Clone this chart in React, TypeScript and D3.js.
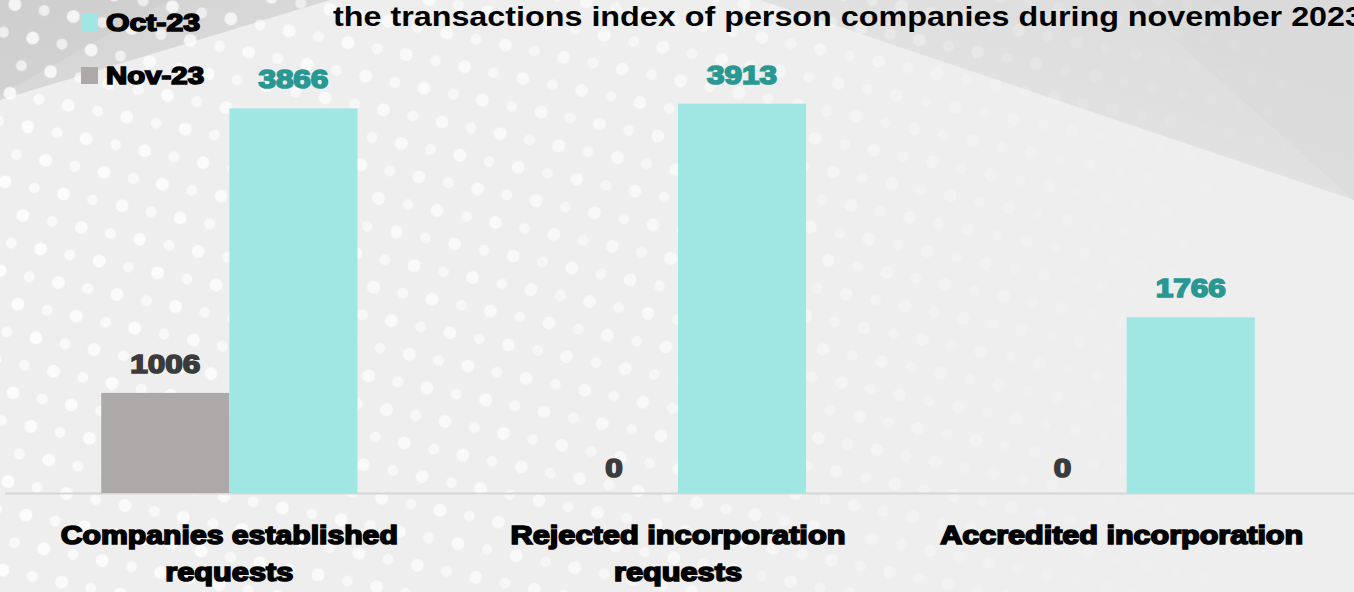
import React from 'react';
import * as d3 from 'd3';

const categories = [
  ['Companies established', 'requests'],
  ['Rejected incorporation', 'requests'],
  ['Accredited incorporation'],
];
const seriesNames = ['Nov-23', 'Oct-23'];
const nov23 = [1006, 0, 0];
const oct23 = [3866, 3913, 1766];
const title = 'the transactions index of person companies during november 2023';

const W = 1354;
const H = 592;
const heavy = '"Liberation Sans", Arial, sans-serif';

// widths the heavy (Arial Black like) texts take in the picture
const textWidths: Record<string, number> = {
  'Companies established': 337,
  'Rejected incorporation': 335,
  'Accredited incorporation': 363,
  requests: 128,
  'Oct-23': 94,
  'Nov-23': 98,
};
const digitWidth = 17.5;

export default function App() {
  const baseY = 493;
  const x0 = d3.scaleBand<number>().domain([0, 1, 2]).range([5, 1351]).paddingInner(0.429).paddingOuter(0.2145);
  const x1 = d3.scaleBand<string>().domain(seriesNames).range([0, x0.bandwidth()]);
  const y = d3.scaleLinear().domain([0, 4000]).range([baseY, 95]);

  const colors: Record<string, string> = { 'Nov-23': '#aea9a9', 'Oct-23': '#a0e6e3' };
  const labelColors: Record<string, string> = { 'Nov-23': '#3b3b3b', 'Oct-23': '#2a9892' };
  const values: Record<string, number[]> = { 'Nov-23': nov23, 'Oct-23': oct23 };

  return (
    <svg width={W} height={H} style={{ position: 'absolute', left: 0, top: 0 }}>
      <defs>
        <linearGradient id="tl" x1="0" y1="0" x2="1" y2="1">
          <stop offset="0" stopColor="#c9c9c9" />
          <stop offset="1" stopColor="#dcdcdc" />
        </linearGradient>
        <linearGradient id="tr" x1="1" y1="0" x2="0" y2="1">
          <stop offset="0" stopColor="#d2d2d2" />
          <stop offset="1" stopColor="#e4e4e4" />
        </linearGradient>
        <pattern id="dots" width="46" height="38" patternUnits="userSpaceOnUse" patternTransform="rotate(-28)">
          <circle cx="11" cy="11" r="6.5" fill="#ffffff" opacity="0.8" />
          <circle cx="34" cy="30" r="5.5" fill="#ffffff" opacity="0.65" />
        </pattern>
        <linearGradient id="fade" x1="0" y1="0" x2="1" y2="0">
          <stop offset="0" stopColor="#fff" stopOpacity="1" />
          <stop offset="0.5" stopColor="#fff" stopOpacity="0.7" />
          <stop offset="0.8" stopColor="#fff" stopOpacity="0.15" />
          <stop offset="1" stopColor="#fff" stopOpacity="0" />
        </linearGradient>
        <mask id="dotMask">
          <rect width={W} height={H} fill="url(#fade)" />
        </mask>
      </defs>

      {/* background */}
      <rect width={W} height={H} fill="#eeeeee" />
      <polygon points="0,0 330,0 0,100" fill="url(#tl)" opacity="0.8" />
      <polygon points="0,0 170,0 0,95" fill="#cdcdcd" opacity="0.6" />
      <polygon points="760,0 1354,0 1354,200" fill="url(#tr)" opacity="0.7" />
      <polygon points="1130,0 1354,0 1354,200" fill="#d8d8d8" opacity="0.6" />
      <rect width={W} height={H} fill="url(#dots)" mask="url(#dotMask)" />

      {/* title */}
      <text x={333} y={26} fontFamily='"Liberation Sans Narrow", "Liberation Sans", Arial, sans-serif' fontWeight="bold"
        fontSize={28} textLength={1030} lengthAdjust="spacingAndGlyphs" fill="#000">{title}</text>

      {/* legend */}
      {['Oct-23', 'Nov-23'].map((s, i) => (
        <g key={s} transform={`translate(81, ${14 + i * 53})`}>
          <rect width={17} height={17} fill={colors[s]} />
          <text x={25} y={17} fontFamily={heavy} fontWeight="bold" fontSize={24} fill="#000"
            stroke="#000" strokeWidth={1.6} textLength={textWidths[s]} lengthAdjust="spacingAndGlyphs">{s}</text>
        </g>
      ))}

      {/* axis line */}
      <line x1={5} x2={W} y1={baseY + 0.5} y2={baseY + 0.5} stroke="#d6d6d6" strokeWidth={2} />

      {/* bars */}
      {categories.map((_, ci) => (
        <g key={ci} transform={`translate(${x0(ci)},0)`}>
          {seriesNames.map((s) => {
            const v = values[s][ci];
            const bx = x1(s) as number;
            return (
              <g key={s}>
                {v > 0 && (
                  <rect x={bx} y={y(v)} width={x1.bandwidth()} height={baseY - y(v)} fill={colors[s]} />
                )}
                <text x={bx + x1.bandwidth() / 2} y={y(v) - (v > 0 ? 20 : 16)} textAnchor="middle"
                  fontFamily={heavy} fontWeight="bold" fontSize={25}
                  textLength={String(v).length * digitWidth} lengthAdjust="spacingAndGlyphs"
                  fill={labelColors[s]} stroke={labelColors[s]} strokeWidth={1.6}>{v}</text>
              </g>
            );
          })}
        </g>
      ))}

      {/* category labels */}
      {categories.map((lines, ci) =>
        lines.map((l, li) => (
          <text key={`${ci}-${li}`} x={(x0(ci) as number) + x0.bandwidth() / 2 - (ci === 2 ? 5 : 0)} y={544 + li * 37}
            textAnchor="middle" fontFamily={heavy} fontWeight="bold" fontSize={25}
            textLength={textWidths[l]} lengthAdjust="spacingAndGlyphs"
            fill="#000" stroke="#000" strokeWidth={1.6}>{l}</text>
        ))
      )}
    </svg>
  );
}
